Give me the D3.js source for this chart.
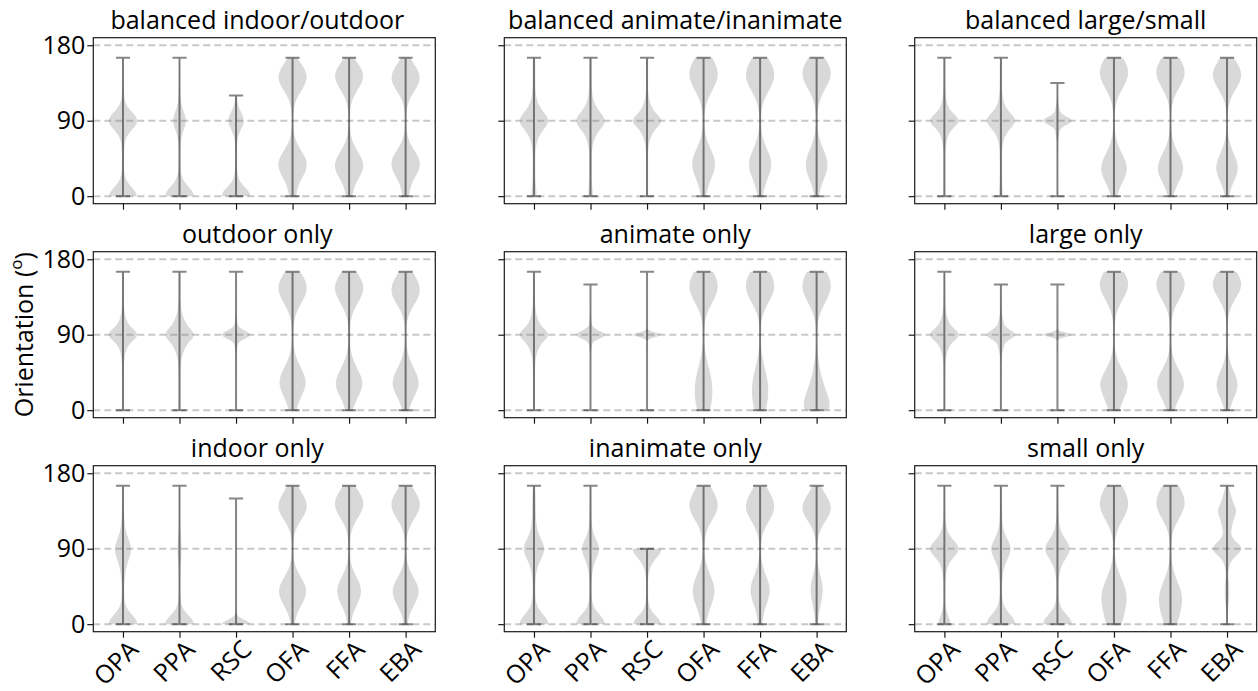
<!DOCTYPE html>
<html>
<head>
<meta charset="utf-8">
<script src="https://cdn.jsdelivr.net/npm/d3@7"></script>
<style>
  html, body { margin: 0; padding: 0; background: #fff; }
  svg { display: block; font-family: "Open Sans", "Noto Sans", sans-serif; }
</style>
</head>
<body>
<svg id="chart" width="1258" height="691"></svg>
<script>
// Preferred-orientation bins (degrees) and the ROIs on each x axis
const orientations = [0, 15, 30, 45, 60, 75, 90, 105, 120, 135, 150, 165];
const regions = ["OPA", "PPA", "RSC", "OFA", "FFA", "EBA"];
const yTickValues = [0, 90, 180];
const referenceLines = [0, 90, 180];

const panelTitles = [
  "balanced indoor/outdoor", "balanced animate/inanimate", "balanced large/small",
  "outdoor only", "animate only", "large only",
  "indoor only", "inanimate only", "small only"
];

// Voxel counts per orientation bin, one row per ROI (OPA, PPA, RSC, OFA, FFA, EBA)
const balancedIndoorOutdoor = [
  [800, 60, 30, 30, 40, 80, 800, 60, 30, 20, 20, 20],
  [900, 80, 30, 25, 30, 50, 380, 50, 25, 20, 15, 15],
  [900, 90, 30, 25, 30, 60, 470, 60, 20, 0, 0, 0],
  [150, 120, 520, 520, 120, 20, 8, 20, 120, 520, 520, 60],
  [140, 110, 560, 480, 110, 20, 8, 20, 100, 480, 560, 60],
  [140, 110, 480, 540, 120, 20, 8, 20, 120, 540, 480, 60]
];
const balancedAnimateInanimate = [
  [80, 32, 28, 28, 36, 120, 440, 112, 36, 28, 28, 28],
  [70, 30, 28, 28, 36, 130, 440, 120, 36, 28, 28, 28],
  [22, 22, 22, 22, 32, 125, 440, 115, 32, 22, 22, 22],
  [100, 140, 420, 440, 160, 30, 10, 30, 160, 480, 560, 300],
  [100, 140, 420, 420, 160, 30, 10, 30, 160, 500, 560, 260],
  [90, 130, 420, 400, 150, 30, 10, 30, 120, 440, 600, 260]
];
const balancedLargeSmall = [
  [30, 25, 25, 25, 35, 110, 500, 100, 35, 25, 25, 25],
  [60, 30, 25, 25, 35, 120, 500, 110, 35, 25, 25, 25],
  [14, 12, 12, 12, 16, 70, 600, 70, 16, 12, 0, 0],
  [90, 200, 560, 360, 100, 15, 6, 15, 100, 420, 580, 300],
  [80, 180, 560, 360, 90, 15, 6, 15, 90, 400, 600, 280],
  [60, 140, 480, 320, 80, 12, 6, 12, 100, 480, 600, 160]
];
const outdoorOnly = [
  [25, 22, 22, 25, 35, 110, 520, 110, 35, 22, 22, 22],
  [35, 25, 25, 28, 45, 150, 480, 150, 45, 25, 25, 25],
  [10, 8, 8, 8, 12, 45, 650, 45, 12, 8, 8, 8],
  [130, 220, 560, 380, 110, 15, 6, 20, 120, 440, 600, 220],
  [120, 220, 600, 330, 100, 15, 6, 20, 110, 440, 600, 200],
  [100, 200, 560, 330, 100, 15, 6, 15, 110, 500, 520, 180]
];
const animateOnly = [
  [25, 22, 22, 25, 40, 130, 480, 120, 40, 25, 22, 22],
  [10, 8, 8, 8, 12, 40, 600, 40, 12, 8, 8, 0],
  [10, 5, 5, 5, 8, 25, 1500, 25, 8, 5, 5, 5],
  [300, 320, 350, 250, 100, 15, 6, 15, 120, 480, 650, 380],
  [250, 300, 320, 220, 80, 12, 6, 12, 100, 460, 650, 380],
  [700, 400, 250, 120, 50, 10, 5, 12, 100, 450, 650, 380]
];
const largeOnly = [
  [22, 20, 20, 22, 35, 120, 500, 115, 35, 22, 20, 20],
  [15, 12, 12, 15, 25, 90, 550, 90, 25, 15, 12, 0],
  [10, 5, 5, 5, 8, 30, 1500, 30, 8, 5, 5, 0],
  [200, 260, 620, 300, 60, 10, 5, 10, 60, 320, 620, 330],
  [110, 230, 600, 300, 60, 10, 5, 10, 60, 300, 620, 300],
  [60, 180, 520, 200, 40, 8, 4, 8, 40, 260, 700, 280]
];
const indoorOnly = [
  [900, 80, 40, 40, 70, 160, 420, 120, 50, 30, 25, 25],
  [1000, 70, 30, 25, 30, 40, 120, 40, 25, 20, 20, 20],
  [1500, 20, 10, 8, 8, 10, 15, 10, 8, 8, 8, 0],
  [60, 120, 450, 520, 160, 20, 8, 20, 140, 560, 460, 120],
  [60, 100, 400, 480, 150, 20, 8, 20, 120, 500, 560, 140],
  [60, 110, 440, 500, 150, 20, 8, 20, 130, 520, 520, 140]
];
const inanimateOnly = [
  [900, 80, 40, 40, 60, 150, 560, 120, 80, 60, 60, 50],
  [900, 80, 40, 30, 50, 120, 480, 80, 40, 30, 25, 25],
  [800, 90, 30, 25, 40, 180, 800, 0, 0, 0, 0, 0],
  [100, 140, 380, 420, 200, 40, 15, 40, 160, 560, 500, 200],
  [80, 100, 300, 380, 150, 30, 10, 30, 200, 560, 460, 160],
  [50, 70, 200, 260, 100, 20, 10, 30, 200, 640, 440, 90]
];
const smallOnly = [
  [400, 50, 30, 30, 60, 180, 900, 160, 50, 30, 30, 30],
  [800, 90, 30, 30, 50, 130, 480, 100, 40, 30, 25, 25],
  [800, 90, 30, 30, 50, 150, 620, 120, 40, 30, 25, 25],
  [300, 300, 450, 350, 150, 20, 8, 20, 150, 480, 480, 250],
  [250, 300, 450, 300, 100, 15, 8, 20, 120, 480, 540, 250],
  [15, 25, 80, 90, 30, 110, 650, 110, 200, 380, 170, 50]
];

const panelCounts = [
  balancedIndoorOutdoor, balancedAnimateInanimate, balancedLargeSmall,
  outdoorOnly, animateOnly, largeOnly,
  indoorOnly, inanimateOnly, smallOnly
];

// ---- layout ----
const colLeft = [93.3, 504.3, 914.7];
const rowTop = [37.7, 251.7, 465.7];
const panelW = 342, panelH = 166;
const titleShift = [-7, 0, 0];

const svg = d3.select("#chart");

const x = d3.scaleLinear().domain([0.475, 6.525]).range([0, panelW]);
const y = d3.scaleLinear().domain([-9, 189]).range([panelH, 0]);

// Gaussian KDE with Scott's bandwidth on binned (weighted) data, evaluated
// between the smallest and largest observed orientation.
function violinProfile(counts) {
  const used = orientations.map((v, i) => ({ v, c: counts[i] })).filter(d => d.c > 0);
  const n = d3.sum(used, d => d.c);
  const mean = d3.sum(used, d => d.c * d.v) / n;
  const variance = d3.sum(used, d => d.c * (d.v - mean) ** 2) / (n - 1);
  const bw = Math.sqrt(variance) * Math.pow(n, -0.2);
  const lo = d3.min(used, d => d.v), hi = d3.max(used, d => d.v);
  const steps = 100;
  const pts = d3.range(steps).map(k => {
    const v = lo + (hi - lo) * k / (steps - 1);
    const dens = d3.sum(used, d => d.c * Math.exp(-((v - d.v) ** 2) / (2 * bw * bw)));
    return { v, dens };
  });
  const maxD = d3.max(pts, p => p.dens);
  pts.forEach(p => { p.hw = 0.25 * p.dens / maxD; });
  return { pts, lo, hi };
}

panelCounts.forEach((counts, pi) => {
  const col = pi % 3, row = Math.floor(pi / 3);
  const g = svg.append("g").attr("transform", `translate(${colLeft[col]},${rowTop[row]})`);

  // dashed reference lines
  g.selectAll("line.ref").data(referenceLines).join("line")
    .attr("class", "ref")
    .attr("x1", 0).attr("x2", panelW)
    .attr("y1", d => y(d)).attr("y2", d => y(d))
    .attr("stroke", "#c8c8c8").attr("stroke-width", 2)
    .attr("stroke-dasharray", "7,4");

  const profiles = counts.map(violinProfile);

  // violin bodies
  profiles.forEach((p, ri) => {
    const pos = ri + 1;
    const area = d3.area()
      .y(d => y(d.v))
      .x0(d => x(pos - d.hw))
      .x1(d => x(pos + d.hw));
    g.append("path").attr("d", area(p.pts))
      .attr("fill", "#808080").attr("fill-opacity", 0.3);
  });

  // extrema bar and caps
  profiles.forEach((p, ri) => {
    const pos = ri + 1;
    const path = d3.path();
    path.moveTo(x(pos), y(p.lo)); path.lineTo(x(pos), y(p.hi));
    path.moveTo(x(pos - 0.125), y(p.lo)); path.lineTo(x(pos + 0.125), y(p.lo));
    path.moveTo(x(pos - 0.125), y(p.hi)); path.lineTo(x(pos + 0.125), y(p.hi));
    g.append("path").attr("d", path.toString())
      .attr("fill", "none").attr("stroke", "#000").attr("stroke-opacity", 0.47)
      .attr("stroke-width", 2);
  });

  // frame
  g.append("rect").attr("x", 0).attr("y", 0).attr("width", panelW).attr("height", panelH)
    .attr("fill", "none").attr("stroke", "#1a1a1a").attr("stroke-width", 1.2);

  // y axis
  const yAxis = g.append("g").call(
    d3.axisLeft(y).tickValues(yTickValues).tickSize(6).tickPadding(2)
      .tickFormat(col === 0 ? d3.format("d") : () => ""));
  yAxis.select(".domain").remove();
  yAxis.selectAll("line").attr("stroke", "#1a1a1a").attr("stroke-width", 1.2);
  yAxis.selectAll("text").attr("font-size", 25).attr("fill", "#000")
    .attr("font-family", "'Open Sans', sans-serif");

  // x axis
  const xAxis = g.append("g").attr("transform", `translate(0,${panelH})`).call(
    d3.axisBottom(x).tickValues(d3.range(1, regions.length + 1)).tickSize(6)
      .tickFormat(row === 2 ? (d => regions[d - 1]) : () => ""));
  xAxis.select(".domain").remove();
  xAxis.selectAll("line").attr("stroke", "#1a1a1a").attr("stroke-width", 1.2);
  xAxis.selectAll("text")
    .attr("font-size", 25).attr("fill", "#000")
    .attr("font-family", "'Open Sans', sans-serif")
    .attr("text-anchor", "end")
    .attr("x", 0).attr("y", 0).attr("dy", null)
    .attr("transform", "translate(16.5,19.5) rotate(-45)");

  // title
  g.append("text").attr("x", panelW / 2 + titleShift[col]).attr("y", -8.5)
    .attr("text-anchor", "middle").attr("font-size", 25).attr("fill", "#000")
    .text(panelTitles[pi]);
});

// shared y label
const yl = svg.append("text")
  .attr("transform", `translate(33,${rowTop[1] + panelH / 2}) rotate(-90)`)
  .attr("text-anchor", "middle").attr("font-size", 25).attr("fill", "#000");
yl.append("tspan").text("Orientation (");
yl.append("tspan").attr("baseline-shift", "super").attr("font-size", 17).text("o");
yl.append("tspan").text(")");
</script>
</body>
</html>
